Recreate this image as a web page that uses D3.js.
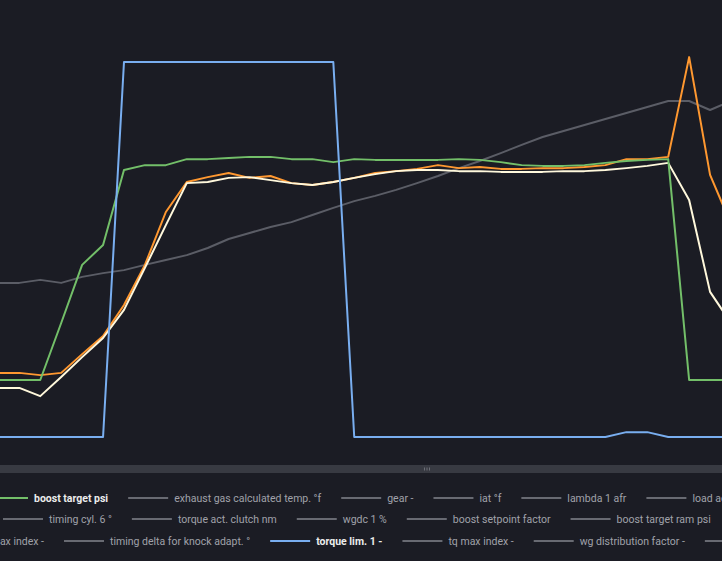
<!DOCTYPE html>
<html>
<head>
<meta charset="utf-8">
<script src="https://cdn.jsdelivr.net/npm/d3@7"></script>
<style>
  html, body { margin: 0; padding: 0; background: #1b1c24; overflow: hidden; }
  svg { display: block; }
</style>
</head>
<body>
<svg id="chart" width="722" height="561"></svg>
<script>
// ---- data (index = sample number, values in % of the panel's value range) ----
const samples = d3.range(36);

const boostTargetPsi = [15.2,15.2,15.2,30.4,45.9,51.2,71.2,72.5,72.5,74.1,74.1,74.4,74.7,74.7,74.1,74.1,73.3,74.1,73.9,73.9,73.9,73.9,74.1,73.9,73.3,72.5,72.3,72.3,72.5,73.1,73.6,73.9,74.1,15.2,15.2,15.2];
const boostActual   = [17.1,17.1,16.5,17.1,22.1,26.9,35.2,45.9,60.0,68.0,69.3,70.4,69.1,69.6,67.7,67.2,68.0,69.1,70.4,70.9,71.5,72.5,71.7,72.0,71.5,71.5,71.7,71.7,72.0,72.5,74.1,74.1,74.7,101.3,69.9,56.8];
const boostSetpoint = [13.1,13.1,10.9,16.0,21.3,26.4,33.9,45.1,56.5,67.7,68.0,69.1,69.3,68.5,67.7,67.2,68.0,69.1,70.1,70.9,71.2,71.2,70.9,70.9,70.7,70.7,70.7,70.9,70.9,71.2,71.7,72.3,73.1,63.2,38.7,30.4];
const exhaustTemp   = [41.1,41.1,41.9,41.1,42.7,43.7,44.5,45.9,47.2,48.5,50.4,52.8,54.4,56.0,57.3,59.2,61.1,62.9,64.3,65.9,67.7,69.6,71.7,73.6,75.7,77.9,80.0,81.6,83.2,84.8,86.4,88.0,89.6,89.6,87.2,89.6];
const torqueLim     = [0,0,0,0,0,0,100,100,100,100,100,100,100,100,100,100,100,0,0,0,0,0,0,0,0,0,0,0,0,0,1.3,1.3,0,0,0,0];

const legendRow1 = ["boost target psi","exhaust gas calculated temp. °f","gear -","iat °f","lambda 1 afr","load act. %"];
const legendRow2 = ["timing cyl. 6 °","torque act. clutch nm","wgdc 1 %","boost setpoint factor","boost target ram psi"];
const legendRow3 = ["max index -","timing delta for knock adapt. °","torque lim. 1 -","tq max index -","wg distribution factor -","boost actual psi"];

// ---- styling ----
const C = {
  bg: "#1b1c24",
  green: "#73bf69",
  orange: "#ff9830",
  cream: "#fff8dc",
  gray: "#5b5d66",
  blue: "#79aef0",
  legendGray: "#686a72",
  text: "#a0a2aa",
  textBold: "#ececec"
};
const highlight = { "boost target psi": C.green, "torque lim. 1 -": C.blue };

const svg = d3.select("#chart");
svg.append("rect").attr("width", 722).attr("height", 561).attr("fill", C.bg);

const x = d3.scaleLinear().domain([0, 35]).range([-1.6, 731]);
const y = d3.scaleLinear().domain([0, 100]).range([437, 62]);

svg.append("clipPath").attr("id", "plotclip")
  .append("rect").attr("x", 0).attr("y", 0).attr("width", 722).attr("height", 460);

const plot = svg.append("g").attr("clip-path", "url(#plotclip)");
const line = d3.line().x((d, i) => x(samples[i])).y(d => y(d)).curve(d3.curveLinear);

const series = [
  { values: exhaustTemp, color: C.gray, w: 2 },
  { values: boostActual, color: C.orange, w: 2 },
  { values: boostSetpoint, color: C.cream, w: 2 },
  { values: boostTargetPsi, color: C.green, w: 2 },
  { values: torqueLim, color: C.blue, w: 2 }
];
plot.selectAll("path.series").data(series).join("path")
  .attr("class", "series")
  .attr("d", d => line(d.values))
  .attr("fill", "none")
  .attr("stroke", d => d.color)
  .attr("stroke-width", d => d.w)
  .attr("stroke-linejoin", "round");

// ---- splitter bar ----
svg.append("rect").attr("x", 0).attr("y", 465).attr("width", 722).attr("height", 8).attr("fill", "#383a42");
[0, 1, 2].forEach(k => {
  svg.append("rect").attr("x", 424 + k * 2.5).attr("y", 467.5).attr("width", 1).attr("height", 3).attr("fill", "#6c6e76");
});

// ---- legend ----
const FONT = "Roboto, 'Noto Sans', sans-serif";
const FS = 10.5;
const SW = 40, GAP_T = 6, GAP_I = 20;
const legend = svg.append("g");

function measure(t, bold) {
  const tmp = legend.append("text").attr("font-family", FONT).attr("font-size", FS)
    .attr("font-weight", bold ? 700 : 400).text(t);
  const w = tmp.node().getComputedTextLength();
  tmp.remove();
  return w;
}
function drawRow(items, yy, anchorIdx, anchorX) {
  const widths = items.map(t => measure(t, !!highlight[t]));
  const starts = [];
  starts[anchorIdx] = anchorX;
  for (let i = anchorIdx + 1; i < items.length; i++) starts[i] = starts[i - 1] + SW + GAP_T + widths[i - 1] + GAP_I;
  for (let i = anchorIdx - 1; i >= 0; i--) starts[i] = starts[i + 1] - GAP_I - widths[i] - GAP_T - SW;
  items.forEach((t, i) => {
    const hl = highlight[t];
    legend.append("line").attr("x1", starts[i]).attr("x2", starts[i] + SW)
      .attr("y1", yy).attr("y2", yy)
      .attr("stroke", hl || C.legendGray).attr("stroke-width", 2);
    legend.append("text").attr("x", starts[i] + SW + GAP_T).attr("y", yy)
      .attr("dy", "0.35em")
      .attr("font-family", FONT).attr("font-size", FS)
      .attr("font-weight", hl ? 700 : 400)
      .attr("fill", hl ? C.textBold : C.text)
      .text(t);
  });
}
drawRow(legendRow1, 498, 0, -12);
drawRow(legendRow2, 519, 0, 3);
drawRow(legendRow3, 541, 1, 64);
</script>
</body>
</html>
